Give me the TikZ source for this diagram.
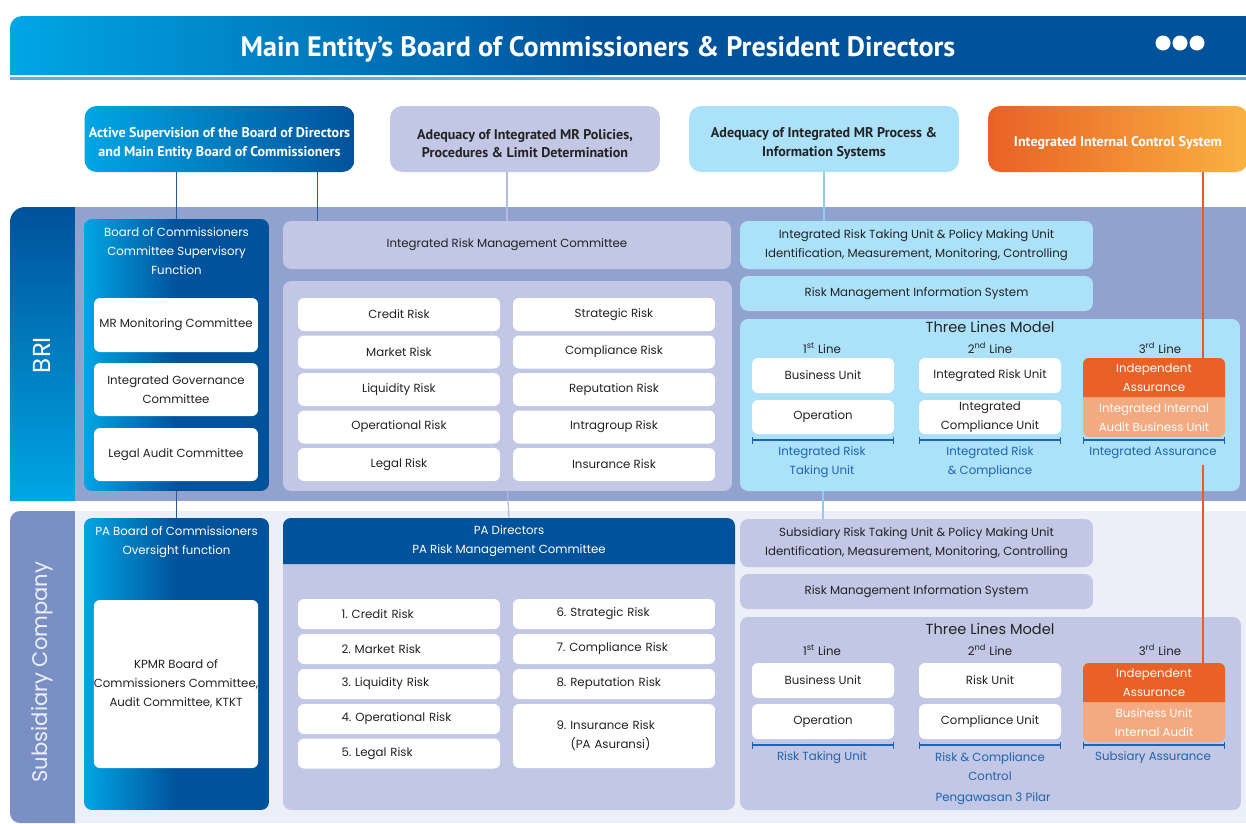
\documentclass[tikz,border=0pt]{standalone}
\usepackage{fontspec}
\setmainfont{Poppins}
\newfontfamily\headfont{PT Sans}
\usetikzlibrary{arrows.meta}

\definecolor{cyanA}{RGB}{0,166,228}
\definecolor{navy}{RGB}{0,82,155}
\definecolor{lav}{RGB}{193,199,228}
\definecolor{periw}{RGB}{146,162,206}
\definecolor{sky}{RGB}{172,225,250}
\definecolor{orangeA}{RGB}{233,97,37}
\definecolor{orangeB}{RGB}{250,178,66}
\definecolor{peach}{RGB}{243,170,128}
\definecolor{subband}{RGB}{122,143,196}
\definecolor{pale}{RGB}{236,239,248}
\definecolor{linkblue}{RGB}{30,100,175}
\definecolor{ink}{RGB}{35,35,35}
\definecolor{darklink}{RGB}{40,90,160}
\definecolor{lavlink}{RGB}{180,188,222}
\definecolor{skylink}{RGB}{140,205,240}
\definecolor{orangelink}{RGB}{222,95,45}
\definecolor{rule}{RGB}{90,175,225}

\tikzset{
    every node/.style={inner sep=0pt},
    body/.style={font=\fontsize{6.7}{10.8}\selectfont},
    topbox/.style={rounded corners=0.24cm, align=center, minimum width=5.4cm,
        minimum height=1.32cm, text height=21.7pt, font=\headfont\bfseries\fontsize{8}{10.8}\selectfont},
    wbox/.style={fill=white, rounded corners=0.12cm, align=center, text=ink, body},
    lavbox/.style={fill=lav, rounded corners=0.16cm, align=center, text=ink, body},
    skybox/.style={fill=sky, rounded corners=0.16cm, align=center, text=ink, body},
    riskbox/.style={wbox, minimum width=4.04cm, minimum height=0.66cm},
    pariskbox/.style={wbox, minimum width=4.04cm, minimum height=0.6cm, text width=2.3cm, align=left},
    colbox/.style={wbox, minimum width=2.84cm, minimum height=0.7cm},
    boxtitle/.style={align=center, text=white, body},
    linelbl/.style={text=ink, body},
    unitlbl/.style={text=linkblue, align=center, body},
    tlmtitle/.style={text=ink, font=\fontsize{8.3}{11}\selectfont},
    bracket/.style={draw=linkblue, line width=0.7pt, {Bar[width=4pt]}-{Bar[width=4pt]}},
    iatext/.style={align=center, text=white, body},
    link/.style={line width=0.7pt},
}

\begin{document}
\frenchspacing
\begin{tikzpicture}[x=0.02cm, y=-0.02cm]
    \useasboundingbox (0,0) rectangle (1246,823);

    % header bar
    \shade[left color=cyanA, right color=navy] (10,75) [rounded corners=0.24cm] -- (10,16) [sharp corners] -- (600,16) -- (600,75) -- cycle;
    \fill[navy] (599,16) rectangle (1246,75);
    \draw[rule, line width=1.2pt] (10,78.5) -- (1246,78.5);
    \node[text=white, font=\headfont\bfseries\fontsize{16}{18}\selectfont] (title) at (598,49.5) {Main Entity’s Board of Commissioners \& President Directors};
    \foreach \x in {1163,1180,1197}
        \fill[white] (\x,43) circle (0.15cm);

    % top row
    \node[topbox, left color=cyanA, right color=navy, text=white] (act) at (219.5,139) {Active Supervision of the Board of Directors\\and Main Entity Board of Commissioners};
    \node[topbox, fill=lav, text=ink] (pol) at (525,139) {Adequacy of Integrated MR Policies,\\Procedures \& Limit Determination};
    \node[topbox, fill=sky, text=ink] (proc) at (824,139) {Adequacy of Integrated MR Process \&\\Information Systems};
    \node[topbox, text height=10pt, minimum width=5.2cm, left color=orangeA, right color=orangeB, text=white] (ics) at (1118,139) {Integrated Internal Control System};

    % BRI band
    \shade[top color=navy, bottom color=cyanA] (10,501) [rounded corners=0.3cm] -- (10,207) [sharp corners] -- (75,207) -- (75,501) -- cycle;
    \fill[periw] (75,207) rectangle (1246,501);
    \node[rotate=90, text=white, font=\fontsize{14}{16}\selectfont] (bri) at (42,355) {BRI};

    % BRI board of commissioners
    \node[rounded corners=0.16cm, left color=cyanA, right color=navy, middle color=navy, minimum width=3.7cm, minimum height=5.44cm] (boc) at (176.5,355) {};
    \node[boxtitle] (boct) at (176.5,251) {Board of Commissioners\\Committee Supervisory\\Function};
    \node[wbox, minimum width=3.28cm, minimum height=1.08cm] (mrm) at (176,325) {MR Monitoring Committee};
    \node[wbox, minimum width=3.28cm, minimum height=1.06cm] (igc) at (176,389.5) {Integrated Governance\\Committee};
    \node[wbox, minimum width=3.28cm, minimum height=1.06cm] (lac) at (176,454.5) {Legal Audit Committee};

    % BRI risks
    \node[lavbox, minimum width=8.96cm, minimum height=0.96cm] (irmc) at (507,245) {Integrated Risk Management Committee};
    \node[lavbox, minimum width=8.98cm, minimum height=4.2cm] (rpanel) at (507.5,386) {};
    \foreach \nm/\y/\lt/\rt in {r1/314.5/Credit Risk/Strategic Risk,
                               r2/352/Market Risk/Compliance Risk,
                               r3/389.5/Liquidity Risk/Reputation Risk,
                               r4/427/Operational Risk/Intragroup Risk,
                               r5/464.5/Legal Risk/Insurance Risk} {
        \node[riskbox] (\nm l) at (399,\y) {\lt};
        \node[riskbox] (\nm r) at (614,\y) {\rt};
    }

    % BRI process side
    \node[skybox, minimum width=7.06cm, minimum height=0.96cm] (irtu) at (916.5,245) {Integrated Risk Taking Unit \& Policy Making Unit\\Identification, Measurement, Monitoring, Controlling};
    \node[skybox, minimum width=7.06cm, minimum height=0.7cm] (rmisa) at (916.5,293.5) {Risk Management Information System};
    \node[skybox, minimum width=10cm, minimum height=3.44cm] (tlma) at (990,405) {};
    \node[tlmtitle] (tlmat) at (990,327) {Three Lines Model};
    \node[linelbl] (l1a) at (822,348) {1\textsuperscript{st} Line};
    \node[linelbl] (l2a) at (990,348) {2\textsuperscript{nd} Line};
    \node[linelbl] (l3a) at (1160,348) {3\textsuperscript{rd} Line};
    \node[colbox] (bua) at (823,375.5) {Business Unit};
    \node[colbox, minimum height=0.68cm] (opa) at (823,417) {Operation};
    \node[colbox] (iru) at (990,375.5) {Integrated Risk Unit};
    \node[colbox, minimum height=0.68cm] (icu) at (990,417) {Integrated\\Compliance Unit};
    \node[rounded corners=0.12cm, fill=peach, minimum width=2.84cm, minimum height=1.58cm] (iaa) at (1154,397.5) {};
    \fill[orangeA] (1083,397) [rounded corners=0.12cm] -- (1083,358) -- (1225,358) [sharp corners] -- (1225,397) -- cycle;
    \node[iatext] (iaat) at (1154,377.5) {Independent\\Assurance};
    \node[iatext] (iiab) at (1154,418) {Integrated Internal\\Audit Business Unit};
    \draw[bracket] (752,440) -- (894,440);
    \draw[bracket] (919,440) -- (1061,440);
    \draw[bracket] (1083,440) -- (1225,440);
    \node[unitlbl] (u1a) at (822,462) {Integrated Risk\\Taking Unit};
    \node[unitlbl] (u2a) at (990,462) {Integrated Risk\\\& Compliance};
    \node[unitlbl] (u3a) at (1153,452.5) {Integrated Assurance};

    % Subsidiary band
    \fill[subband, rounded corners=0.2cm] (10,511) rectangle (85,823);
    \fill[pale] (75,511) rectangle (1246,823);
    \node[rotate=90, text=pale, font=\fontsize{12}{14}\selectfont] (subs) at (42,672) {Subsidiary Company};

    % PA board of commissioners
    \node[rounded corners=0.16cm, left color=cyanA, right color=navy, middle color=navy, minimum width=3.7cm, minimum height=5.84cm] (paboc) at (176.5,664) {};
    \node[boxtitle] (pabt) at (176.5,542) {PA Board of Commissioners\\Oversight function};
    \node[wbox, minimum width=3.28cm, minimum height=3.36cm] (kpmr) at (176,684) {KPMR Board of\\Commissioners Committee,\\Audit Committee, KTKT};

    % PA directors
    \node[lavbox, minimum width=9.04cm, minimum height=5.84cm] (papanel) at (509,664) {};
    \fill[navy] (283,564) [rounded corners=0.16cm] -- (283,518) -- (735,518) [sharp corners] -- (735,564) -- cycle;
    \node[boxtitle, minimum width=9.04cm, minimum height=0.92cm] (padir) at (509,541) {PA Directors\\PA Risk Management Committee};
    \foreach \nm/\y/\txt in {p1/614/1. Credit Risk, p2/649/2. Market Risk, p3/684/3. Liquidity Risk,
                             p4/719/4. Operational Risk, p5/753.5/5. Legal Risk}
        \node[pariskbox] (\nm) at (399,\y) {\txt};
    \foreach \nm/\y/\txt in {p6/614/6. Strategic Risk, p7/649/7. Compliance Risk, p8/684/8. Reputation Risk}
        \node[pariskbox] (\nm) at (614,\y) {\txt};
    \node[pariskbox, minimum height=1.28cm] (p9) at (614,736) {9. Insurance Risk\\\hspace*{0.28cm}(PA Asuransi)};

    % Subsidiary process side
    \node[lavbox, minimum width=7.06cm, minimum height=0.96cm] (srtu) at (916.5,543) {Subsidiary Risk Taking Unit \& Policy Making Unit\\Identification, Measurement, Monitoring, Controlling};
    \node[lavbox, minimum width=7.06cm, minimum height=0.7cm] (rmisb) at (916.5,591.5) {Risk Management Information System};
    \node[lavbox, minimum width=10.02cm, minimum height=3.86cm] (tlmb) at (990.5,713.5) {};
    \node[tlmtitle] (tlmbt) at (990,629) {Three Lines Model};
    \node[linelbl] (l1b) at (822,650) {1\textsuperscript{st} Line};
    \node[linelbl] (l2b) at (990,650) {2\textsuperscript{nd} Line};
    \node[linelbl] (l3b) at (1160,650) {3\textsuperscript{rd} Line};
    \node[colbox] (bub) at (823,680.5) {Business Unit};
    \node[colbox] (opb) at (823,721.5) {Operation};
    \node[colbox] (rub) at (990,680.5) {Risk Unit};
    \node[colbox] (cub) at (990,721.5) {Compliance Unit};
    \node[rounded corners=0.12cm, fill=peach, minimum width=2.84cm, minimum height=1.58cm] (iab) at (1154,702.5) {};
    \fill[orangeA] (1083,702) [rounded corners=0.12cm] -- (1083,663) -- (1225,663) [sharp corners] -- (1225,702) -- cycle;
    \node[iatext] (iabt) at (1154,682.5) {Independent\\Assurance};
    \node[iatext] (buia) at (1154,723) {Business Unit\\Internal Audit};
    \draw[bracket] (752,745) -- (894,745);
    \draw[bracket] (919,745) -- (1061,745);
    \draw[bracket] (1083,745) -- (1225,745);
    \node[unitlbl] (u1b) at (822,757.5) {Risk Taking Unit};
    \node[unitlbl] (u2b) at (990,766.5) {Risk \& Compliance\\Control};
    \node[unitlbl] (u3b) at (1153,757.5) {Subsiary Assurance};
    \node[unitlbl] (pilar) at (993,798.5) {Pengawasan 3 Pilar};

    % connectors
    \coordinate (ocx) at (1203,0);
    \draw[link, darklink] (act.south -| boc.north) -- (boc.north);
    \draw[link, darklink] ([xshift=-0.74cm]act.south east) -- ([xshift=-0.74cm]act.south east |- irmc.north);
    \draw[link, lavlink] (pol.south -| irmc.north) -- (irmc.north);
    \draw[link, skylink] (proc.south) -- (proc.south |- irtu.north);
    \draw[link, orangelink] (ics.south -| ocx) -- (iaa.north -| ocx);
    \draw[link, darklink] (boc.south) -- (paboc.north);
    \draw[link, lavlink] (rpanel.south) -- (padir.north);
    \draw[link, skylink] (tlma.south -| bua) -- (srtu.north -| bua);
    \draw[link, orangelink] ([yshift=-0.12cm]u3a.south -| ocx) -- (iab.north -| ocx);
\end{tikzpicture}
\end{document}
